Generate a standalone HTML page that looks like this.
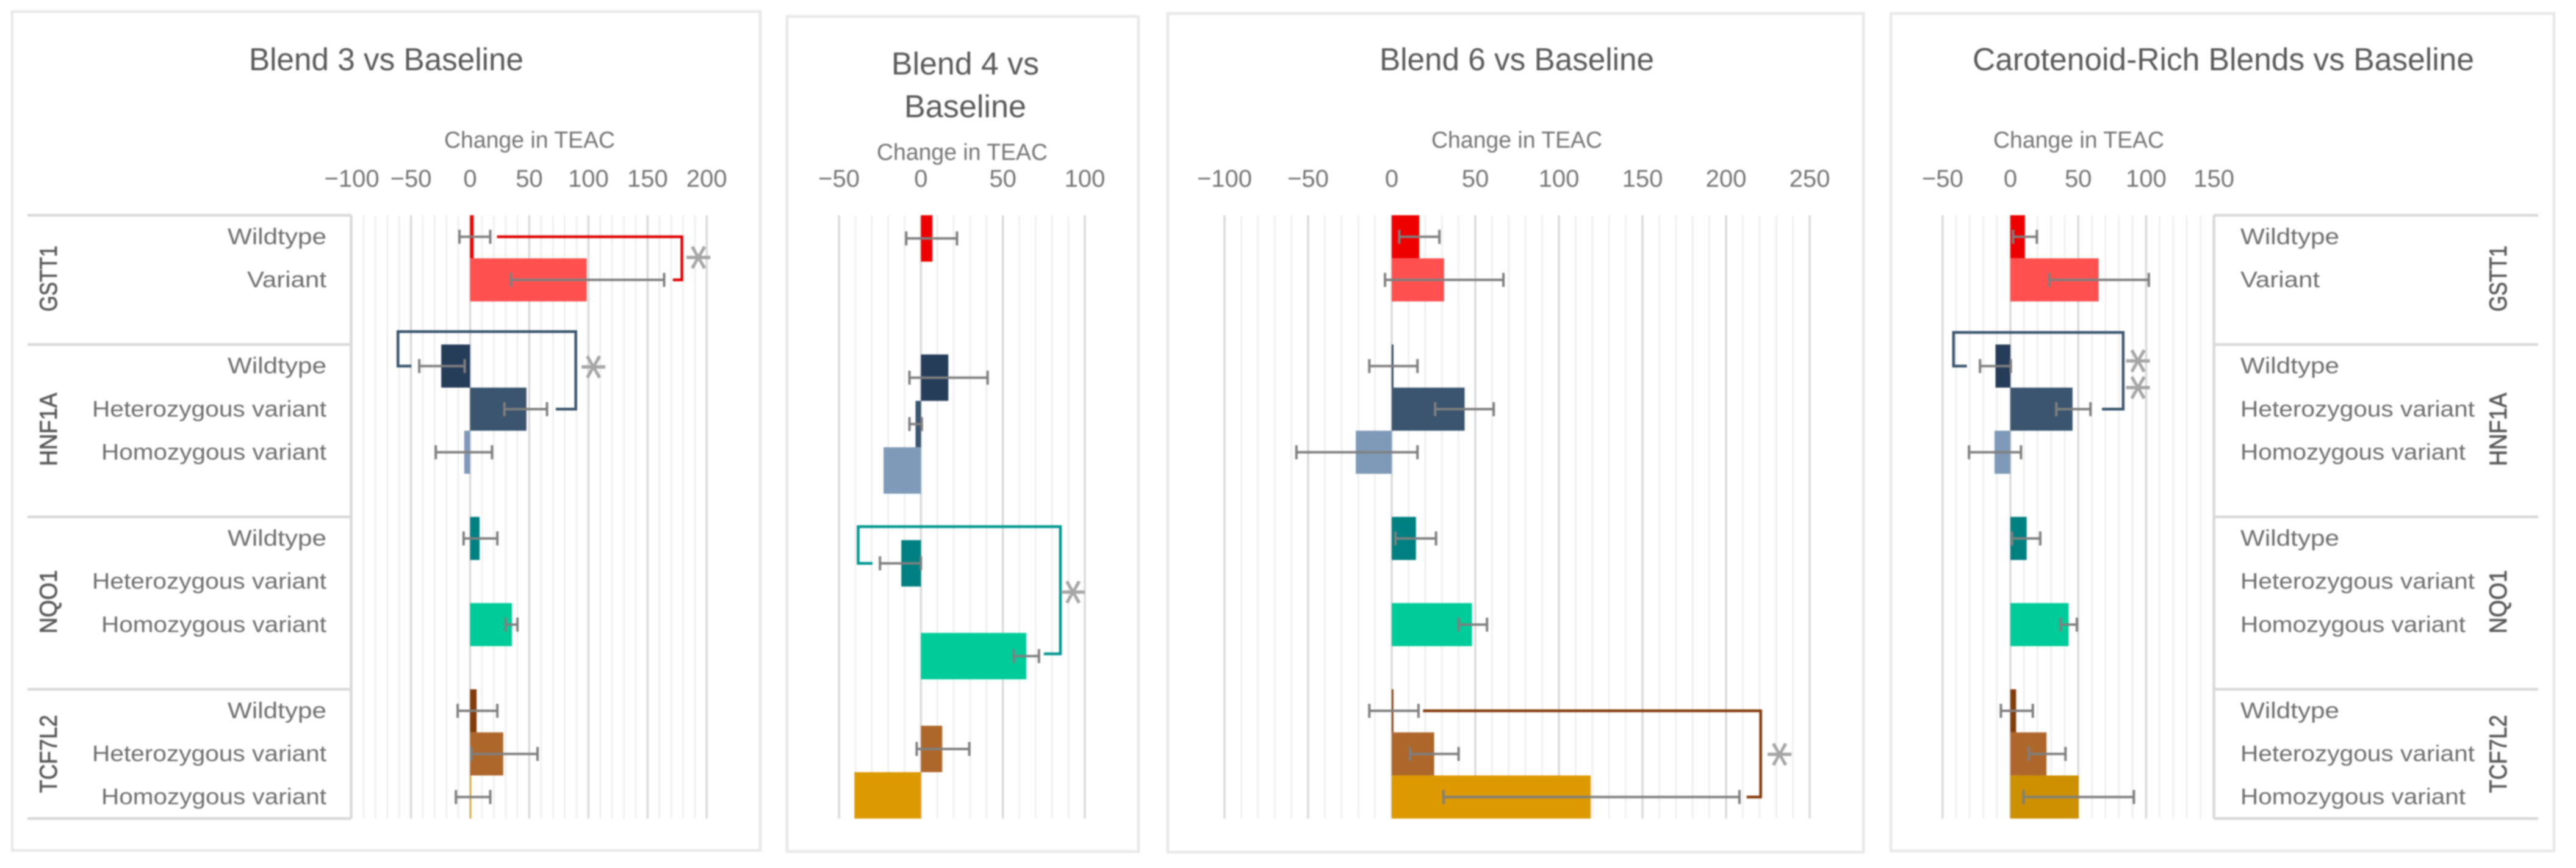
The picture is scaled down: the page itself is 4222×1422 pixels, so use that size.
<!DOCTYPE html>
<html lang="en">
<head>
<meta charset="utf-8">
<title>Change in TEAC by genotype</title>
<style>
  html, body { margin: 0; padding: 0; background: #fff; }
  svg { display: block; filter: blur(1px); }
  text { font-family: "Liberation Sans", sans-serif; }
</style>
</head>
<body>
<svg id="chart" xmlns="http://www.w3.org/2000/svg" width="4222" height="1422" viewBox="0 0 4222 1422">
  <rect x="0" y="0" width="4222" height="1422" fill="#ffffff"></rect>
</svg>
<script>
// ---- Categories ----
const genes = ["GSTT1", "HNF1A", "NQO1", "TCF7L2"];
const rowGenes14 = ["GSTT1","GSTT1","","HNF1A","HNF1A","HNF1A","","NQO1","NQO1","NQO1","","TCF7L2","TCF7L2","TCF7L2"];
const rowLabels14 = ["Wildtype","Variant","","Wildtype","Heterozygous variant","Homozygous variant","","Wildtype","Heterozygous variant","Homozygous variant","","Wildtype","Heterozygous variant","Homozygous variant"];
const rowGenes13 = ["GSTT1","GSTT1","","HNF1A","HNF1A","HNF1A","","NQO1","NQO1","NQO1","","TCF7L2","TCF7L2"];
const rowLabels13 = ["Wildtype","Variant","","Wildtype","Heterozygous variant","Homozygous variant","","Wildtype","Heterozygous variant","Homozygous variant","","Heterozygous variant","Homozygous variant"];

// ---- Blend 3 ----
const blend3Ticks = [-100, -50, 0, 50, 100, 150, 200];
const blend3Values = [3, 98.5, null, -24.4, 47.6, -5, null, 8, null, 35.4, null, 5.5, 28, 1];
const blend3ErrLow = [-9, 34.5, null, -43, 29, -29, null, -5.5, null, 30, null, -10.5, 1, -12];
const blend3ErrHigh = [17, 164, null, -4.6, 65, 18.5, null, 23, null, 40, null, 23, 57, 17];
const blend3RedBracket = [[22.7,0.5],[179,0.5],[179,1.5],[171.4,1.5]];
const blend3NavyBracket = [[-49.7,3.5],[-61,3.5],[-61,2.7],[89.3,2.7],[89.3,4.5],[72.4,4.5]];
const blend3Stars = [[194.4,0.98],[105.7,3.52]];

// ---- Blend 4 ----
const blend4Ticks = [-50, 0, 50, 100];
const blend4Values = [7, null, null, 16.7, -3.3, -22.8, null, -12, null, 64.3, null, 13, -40.6];
const blend4ErrLow = [-9, null, null, -7, -7, null, null, -25, null, 56.7, null, -2.6, null];
const blend4ErrHigh = [22, null, null, 40.7, 0.5, null, null, 0, null, 72, null, 29.5, null];
const blend4TealBracket = [[-29.6,7.5],[-38.3,7.5],[-38.3,6.71],[85.1,6.71],[85.1,9.45],[75,9.45]];
const blend4Stars = [[93.9,8.12]];

// ---- Blend 6 ----
const blend6Ticks = [-100, -50, 0, 50, 100, 150, 200, 250];
const blend6Values = [16.5, 31.3, null, 1, 43.6, -21.5, null, 14.5, null, 48, null, 1, 25.4, 119];
const blend6ErrLow = [4.5, -4, null, -13.4, 26, -57, null, 2.2, null, 40, null, -13.4, 11, 31];
const blend6ErrHigh = [28.5, 66.8, null, 15.4, 61, 15.4, null, 26.5, null, 57, null, 16, 40, 208];
const blend6BrownBracket = [[18.7,11.5],[220.7,11.5],[220.7,13.5],[212.3,13.5]];
const blend6Stars = [[233,12.51]];

// ---- Carotenoid-rich blends ----
const caroTicks = [-50, 0, 50, 100, 150];
const caroValues = [10.7, 65, null, -11, 45.8, -11.7, null, 12, null, 42.9, null, 4.2, 26.6, 50.3];
const caroErrLow = [2, 28.6, null, -22.4, 33.8, -30.5, null, 1.3, null, 37, null, -7, 13.6, 9.7];
const caroErrHigh = [19.5, 102, null, 0.3, 59, 7.8, null, 22, null, 49, null, 16.5, 40.6, 91];
const caroNavyBracket = [[-32.1,3.5],[-41.9,3.5],[-41.9,2.72],[83.1,2.72],[83.1,4.5],[67.5,4.5]];
const caroStars = [[95.3,3.38],[95.3,4.0]];

// ---- Styles (keyed by gene + genotype) ----
const barColors = {
  "GSTT1|Wildtype": "#EE0000", "GSTT1|Variant": "#FF5050",
  "HNF1A|Wildtype": "#263D5A", "HNF1A|Heterozygous variant": "#3B556F", "HNF1A|Homozygous variant": "#7F9AB8",
  "NQO1|Wildtype": "#008080", "NQO1|Heterozygous variant": "#00A0A0", "NQO1|Homozygous variant": "#00CC99",
  "TCF7L2|Wildtype": "#843C0C", "TCF7L2|Heterozygous variant": "#AE672B", "TCF7L2|Homozygous variant": "#DD9900"
};
const labelWidths = { "Wildtype": 162, "Variant": 130, "Heterozygous variant": 384, "Homozygous variant": 369 };
const geneWidths = { "GSTT1": 108, "HNF1A": 120, "NQO1": 104, "TCF7L2": 128 };

const svg = document.getElementById('chart');
const NS = 'http://www.w3.org/2000/svg';

function make(tag, attrs, name, parent) {
  const el = document.createElementNS(NS, tag);
  
  
  for (const k in attrs) el.setAttribute(k, attrs[k]);
  (parent || svg).appendChild(el);
  return el;
}
function label(str, x, y, size, color, anchor, len, name, parent, extra) {
  const attrs = Object.assign({ x: x, y: y, 'font-size': size, fill: color, 'text-anchor': anchor }, extra || {});
  if (len) { attrs.textLength = len; attrs.lengthAdjust = 'spacingAndGlyphs'; }
  const t = make('text', attrs, name, parent);
  t.textContent = str;
  return t;
}
function slug(s) { return s.toLowerCase().replace(/[^a-z0-9]+/g, '-').replace(/^-|-$/g, ''); }

function drawPanel(p) {
  const g = make('g', {}, p.id + '-panel');
  make('rect', { x: p.frame[0], y: p.frame[1], width: p.frame[2]-p.frame[0], height: p.frame[3]-p.frame[1], fill: '#ffffff', stroke: '#E8E8E8', 'stroke-width': 4.5 }, p.id + '-frame', g);

  const top = 352.6, bottom = 1341;
  const rowH = (bottom - top) / p.labels.length;
  const xAxis = v => p.x0 + v * p.scale;
  const yAxis = r => top + r * rowH;

  // Titles
  p.title.forEach(function (t, i) {
    label(t[0], p.titleX, t[2], 52, '#595959', 'middle', t[1], p.id + '-title-line-' + (i + 1), g);
  });
  label('Change in TEAC', p.axisTitleX, p.axisTitleY, 38, '#757575', 'middle', 280, p.id + '-x-axis-title', g);

  // Gridlines
  for (let v = p.gridMin; v <= p.gridMax; v += 10) {
    const major = v % 50 === 0;
    make('line', { x1: xAxis(v), x2: xAxis(v), y1: top, y2: bottom, stroke: major ? '#D9D9D9' : '#F0F0F0', 'stroke-width': major ? 3.5 : 3 }, p.id + (major ? '-major-gridline' : '-minor-gridline'), g);
  }
  // Tick labels
  p.ticks.forEach(function (t) {
    label(String(t).replace('-', '\u2212'), xAxis(t), 306, 40, '#757575', 'middle', 0, p.id + '-tick-label-' + slug(String(t)), g);
  });

  // Bars
  p.values.forEach(function (v, i) {
    if (v === null) return;
    const gene = p.geneOf[i], lab = p.labels[i];
    let fill = barColors[gene + '|' + lab];
    if (p.id === 'carotenoid' && gene === 'TCF7L2' && lab === 'Homozygous variant') fill = '#CC9000';
    const x1 = xAxis(Math.min(0, v)), x2 = xAxis(Math.max(0, v));
    make('rect', { x: x1, y: yAxis(i), width: x2 - x1, height: rowH, fill: fill }, p.id + '-bar-' + slug(gene + ' ' + lab), g);
  });
  // Error bars
  p.errLow.forEach(function (lo, i) {
    const hi = p.errHigh[i];
    if (lo === null || hi === null) return;
    const y = yAxis(i + 0.5), xa = xAxis(lo), xb = xAxis(hi);
    const eg = make('g', { stroke: '#7F7F7F' }, p.id + '-error-bar-' + slug(p.geneOf[i] + ' ' + p.labels[i]), g);
    make('line', { x1: xa, x2: xb, y1: y, y2: y, 'stroke-width': 4 }, 'error-bar-line', eg);
    make('line', { x1: xa, x2: xa, y1: y - 11.5, y2: y + 11.5, 'stroke-width': 4 }, 'error-bar-cap-low', eg);
    make('line', { x1: xb, x2: xb, y1: y - 11.5, y2: y + 11.5, 'stroke-width': 4 }, 'error-bar-cap-high', eg);
  });
  // Significance brackets
  p.brackets.forEach(function (b, i) {
    const d = b.pts.map(function (pt, j) { return (j ? 'L' : 'M') + xAxis(pt[0]) + ' ' + yAxis(pt[1]); }).join(' ');
    make('path', { d: d, fill: 'none', stroke: b.color, 'stroke-width': 4.5 }, p.id + '-significance-bracket-' + (i + 1), g);
  });
  p.stars.forEach(function (s, i) {
    const sx = xAxis(s[0]), sy = yAxis(s[1]);
    const st = label('*', sx, sy + 46, 84, '#A6A6A6', 'middle', 0, p.id + '-significance-star-' + (i + 1), g, { style: 'font-family:"DejaVu Sans",sans-serif', stroke: '#A6A6A6', 'stroke-width': 0.8 });
    st.setAttribute('transform', 'rotate(90 ' + sx + ' ' + sy + ')');
  });

  // Category table
  if (p.table) {
    const tb = make('g', {}, p.id + '-category-table', g);
    const t = p.table;
    make('line', { x1: t.axisX, x2: t.axisX, y1: top, y2: bottom, stroke: '#D9D9D9', 'stroke-width': 4.5 }, 'table-axis-line', tb);
    const seps = [];
    p.geneOf.forEach(function (gn, i) {
      if (i === 0 || (gn && p.geneOf[i - 1] === '')) seps.push(i);
    });
    seps.forEach(function (i) {
      make('line', { x1: t.lineA, x2: t.lineB, y1: yAxis(i), y2: yAxis(i), stroke: '#D9D9D9', 'stroke-width': 4.5 }, 'table-separator', tb);
    });
    make('line', { x1: t.lineA, x2: t.lineB, y1: bottom, y2: bottom, stroke: '#D9D9D9', 'stroke-width': 4.5 }, 'table-separator', tb);

    p.labels.forEach(function (lab, i) {
      if (!lab) return;
      label(lab, t.labelX, yAxis(i + 0.5) + 12, 37, '#6E6E6E', t.labelAnchor, labelWidths[lab], 'category-label-' + slug(p.geneOf[i] + ' ' + lab), tb);
    });
    genes.forEach(function (gn) {
      const idx = p.geneOf.map(function (v, i) { return v === gn ? i : -1; }).filter(function (i) { return i >= 0; });
      const cy = (yAxis(idx[0]) + yAxis(idx[idx.length - 1] + 1)) / 2 + (gn === 'TCF7L2' ? 0 : rowH * 0.47);
      const gl = label(gn, 0, 0, 40, '#595959', 'middle', geneWidths[gn], 'gene-label-' + slug(gn), tb, { stroke: '#595959', 'stroke-width': 0.8 });
      gl.setAttribute('transform', 'translate(' + t.geneX + ' ' + cy + ') rotate(-90)');
    });
  }
}

drawPanel({
  id: 'blend-3', frame: [20, 19, 1246, 1393], x0: 770.5, scale: 1.939, gridMin: -90, gridMax: 200,
  title: [['Blend 3 vs Baseline', 450, 115]], titleX: 633, axisTitleX: 868, axisTitleY: 242,
  ticks: blend3Ticks, values: blend3Values, errLow: blend3ErrLow, errHigh: blend3ErrHigh,
  labels: rowLabels14, geneOf: rowGenes14,
  brackets: [{ pts: blend3RedBracket, color: '#E00000' }, { pts: blend3NavyBracket, color: '#3B556F' }],
  stars: blend3Stars,
  table: { axisX: 575.5, lineA: 45, lineB: 575.5, labelX: 535, labelAnchor: 'end', geneX: 93 }
});
drawPanel({
  id: 'blend-4', frame: [1290, 27, 1866, 1395], x0: 1509.4, scale: 2.686, gridMin: -50, gridMax: 100,
  title: [['Blend 4 vs', 242, 122], ['Baseline', 200, 192]], titleX: 1582, axisTitleX: 1577, axisTitleY: 262,
  ticks: blend4Ticks, values: blend4Values, errLow: blend4ErrLow, errHigh: blend4ErrHigh,
  labels: rowLabels13, geneOf: rowGenes13,
  brackets: [{ pts: blend4TealBracket, color: '#009690' }],
  stars: blend4Stars, table: null
});
drawPanel({
  id: 'blend-6', frame: [1914, 22, 3054, 1396], x0: 2281, scale: 2.74, gridMin: -100, gridMax: 250,
  title: [['Blend 6 vs Baseline', 450, 115]], titleX: 2486, axisTitleX: 2486, axisTitleY: 242,
  ticks: blend6Ticks, values: blend6Values, errLow: blend6ErrLow, errHigh: blend6ErrHigh,
  labels: rowLabels14, geneOf: rowGenes14,
  brackets: [{ pts: blend6BrownBracket, color: '#843C0C' }],
  stars: blend6Stars, table: null
});
drawPanel({
  id: 'carotenoid', frame: [3099, 22, 4186, 1394], x0: 3295, scale: 2.224, gridMin: -50, gridMax: 150,
  title: [['Carotenoid-Rich Blends vs Baseline', 822, 115]], titleX: 3644, axisTitleX: 3407, axisTitleY: 242,
  ticks: caroTicks, values: caroValues, errLow: caroErrLow, errHigh: caroErrHigh,
  labels: rowLabels14, geneOf: rowGenes14,
  brackets: [{ pts: caroNavyBracket, color: '#3B556F' }],
  stars: caroStars,
  table: { axisX: 3628.6, lineA: 3628.6, lineB: 4160, labelX: 3672, labelAnchor: 'start', geneX: 4108 }
});
</script>
</body>
</html>
